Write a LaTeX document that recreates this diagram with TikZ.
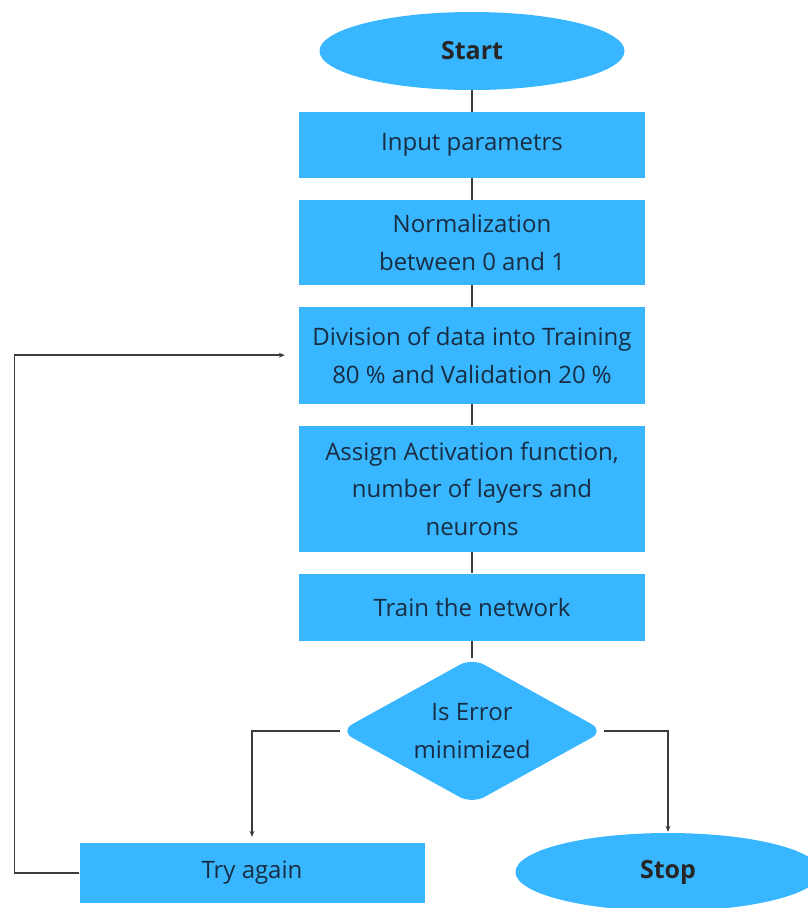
\documentclass[tikz,border=0pt]{standalone}
\usepackage{fontspec}
\setmainfont{Open Sans}
\usetikzlibrary{positioning,shapes.geometric,arrows.meta}
\definecolor{boxblue}{RGB}{56,182,255}
\definecolor{inkblue}{RGB}{24,44,66}
\definecolor{linegray}{RGB}{60,60,60}

\begin{document}
\begin{tikzpicture}[x=1pt, y=-1pt, node distance = 21.5pt,
    every node/.style = {text=inkblue, font=\fontsize{24}{37.5}\selectfont},
    box/.style = {fill=boxblue, minimum width=346pt, inner sep=0pt, align=center},
    term/.style = {ellipse, fill=boxblue, minimum width=305pt, minimum height=78pt, inner sep=0pt, text=black!85, font=\fontsize{25}{30}\selectfont\bfseries},
    decide/.style = {diamond, fill=boxblue, aspect=1.84, minimum width=264pt, minimum height=146pt, inner sep=0pt, rounded corners=14pt, align=center},
    link/.style = {draw=linegray, line width=1.6pt},
    arrow/.style = {link, -{Stealth[length=6pt, width=5pt]}}]
    \useasboundingbox (0,0) rectangle (808,908);
    \node[term] (0) at (472,51) {Start};
    \node[box, minimum height=66pt, below=of 0] (1) {Input parametrs};
    \node[box, minimum height=85pt, below=of 1] (2) {Normalization\\between 0 and 1};
    \node[box, minimum height=97pt, below=of 2] (3) {Division of data into Training\\80 \% and Validation 20 \%};
    \node[box, minimum height=126pt, below=of 3] (4) {Assign Activation function,\\number of layers and\\neurons};
    \node[box, minimum height=67pt, below=of 4] (5) {Train the network};
    \node[decide, below=17pt of 5] (6) {Is Error\\minimized};
    \node[box, minimum width=345pt, minimum height=60pt] (7) at (252,873) {Try again};
    \node[term] (8) at (668,872) {Stop};
    \draw[link] (0) -- (1);
    \foreach \a/\b in {1/2,2/3,3/4,4/5,5/6}
        \draw[link] (\a) -- (\b);
    \draw[arrow, shorten >=6pt] (6.west) -| (7.north);
    \draw[arrow, shorten >=1pt] (6.east) -| (8.north);
    % back to the data split
    \draw[arrow, shorten >=14pt] (7.west) -- ++(-65,0) |- (3.west);
\end{tikzpicture}
\end{document}
